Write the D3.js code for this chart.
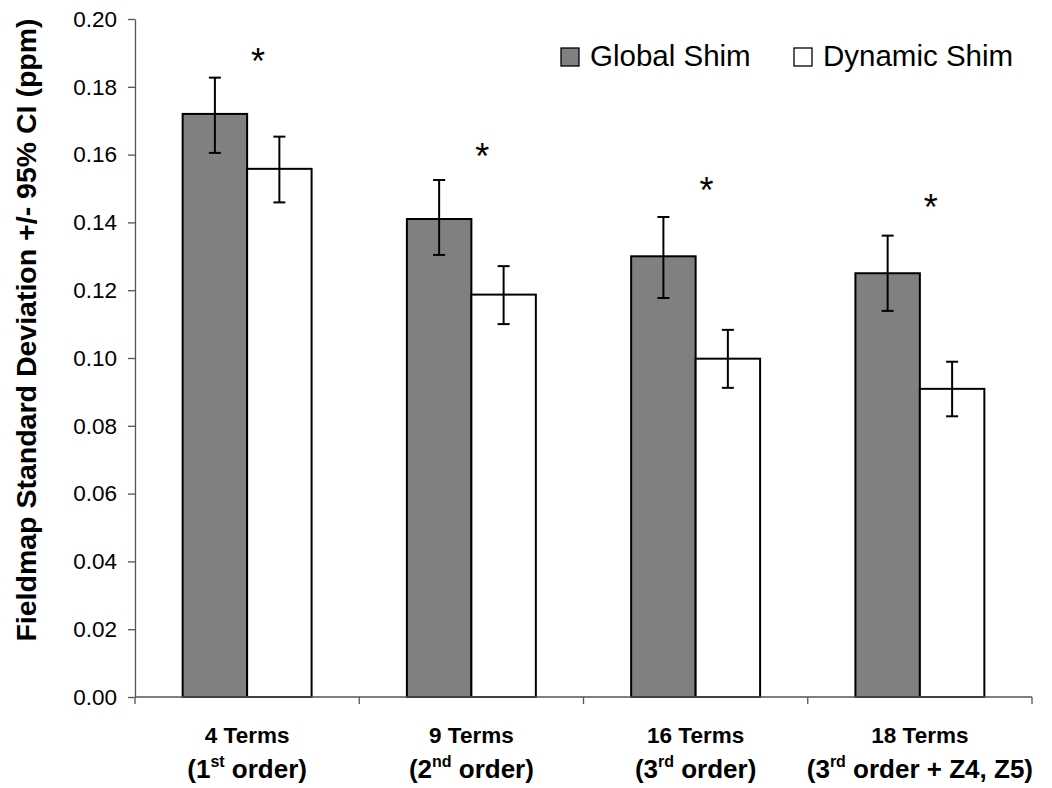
<!DOCTYPE html>
<html>
<head>
<meta charset="utf-8">
<script src="https://cdn.jsdelivr.net/npm/d3@7/dist/d3.min.js"></script>
<style>
  body { margin: 0; background: #fff; }
  text { font-family: Arial, "Liberation Sans", sans-serif; }
</style>
</head>
<body>
<div id="bar-chart"></div>
<script>
// categories and the two-line labels (line 2 has a superscript)
const categories = ['4 Terms', '9 Terms', '16 Terms', '18 Terms'];
const subLabels = [
  ['(1', 'st', ' order)'],
  ['(2', 'nd', ' order)'],
  ['(3', 'rd', ' order)'],
  ['(3', 'rd', ' order + Z4, Z5)']
];
const seriesNames = ['Global Shim', 'Dynamic Shim'];

// values +/- 95% CI (ppm)
const globalShim = [0.172, 0.141, 0.130, 0.125];
const globalLow = [0.1605, 0.1304, 0.1177, 0.1139];
const globalHigh = [0.1827, 0.1525, 0.1416, 0.1361];
const dynamicShim = [0.1558, 0.1187, 0.0998, 0.0909];
const dynamicLow = [0.1459, 0.1100, 0.0912, 0.0828];
const dynamicHigh = [0.1653, 0.1271, 0.1083, 0.0989];

// height of the significance asterisks
const starLevel = [0.1889, 0.1607, 0.1507, 0.1458];

const yTicks = [0, 0.02, 0.04, 0.06, 0.08, 0.10, 0.12, 0.14, 0.16, 0.18, 0.20];

const width = 1052, height = 788;
const margin = { top: 19, right: 20, bottom: 91, left: 135 };
const colors = ['#808080', '#ffffff'];

const rows = categories.map((c, i) => ({
  cat: c,
  bars: [
    { s: 0, v: globalShim[i], lo: globalLow[i], hi: globalHigh[i] },
    { s: 1, v: dynamicShim[i], lo: dynamicLow[i], hi: dynamicHigh[i] }
  ]
}));

const svg = d3.select('#bar-chart')
  .append('svg')
  .attr('width', width)
  .attr('height', height);

//scales
const x = d3.scaleBand()
  .domain(categories)
  .range([margin.left, 1032])
  .paddingInner(0.425)
  .paddingOuter(0.2125);

const xs = d3.scaleBand()
  .domain([0, 1])
  .range([0, x.bandwidth()]);

const y = d3.scaleLinear()
  .domain([0, 0.2])
  .range([height - margin.bottom, margin.top]);

//y-axis
const yAxis = svg.append('g')
  .attr('transform', `translate(${margin.left},0)`)
  .call(d3.axisLeft(y).tickValues(yTicks).tickFormat(d3.format('.2f')).tickSize(7).tickSizeOuter(0).tickPadding(11));
yAxis.select('.domain').attr('stroke', '#555').attr('stroke-width', 1.3);
yAxis.selectAll('.tick line').attr('stroke', '#555').attr('stroke-width', 1.3);
yAxis.selectAll('text').attr('font-size', '22.5px').attr('fill', '#000').attr('font-family', 'Arial, "Liberation Sans", sans-serif');

//y title
svg.append('text')
  .attr('transform', 'translate(36,330) rotate(-90)')
  .attr('text-anchor', 'middle')
  .attr('font-size', '28.5px')
  .attr('font-weight', 'bold')
  .text('Fieldmap Standard Deviation +/- 95% CI (ppm)');

//bars
const groups = svg.append('g')
  .selectAll('g')
  .data(rows)
  .enter()
  .append('g')
  .attr('transform', d => `translate(${x(d.cat)},0)`);

groups.selectAll('rect')
  .data(d => d.bars)
  .enter()
  .append('rect')
  .attr('x', d => xs(d.s))
  .attr('y', d => y(d.v))
  .attr('width', xs.bandwidth())
  .attr('height', d => y(0) - y(d.v))
  .attr('fill', d => colors[d.s])
  .attr('stroke', '#000')
  .attr('stroke-width', 2);

//error bars
const err = groups.selectAll('g.err')
  .data(d => d.bars)
  .enter()
  .append('g')
  .attr('class', 'err')
  .attr('stroke', '#000')
  .attr('stroke-width', 2);

err.append('line')
  .attr('x1', d => xs(d.s) + xs.bandwidth() / 2)
  .attr('x2', d => xs(d.s) + xs.bandwidth() / 2)
  .attr('y1', d => y(d.lo))
  .attr('y2', d => y(d.hi));
err.append('line')
  .attr('x1', d => xs(d.s) + xs.bandwidth() / 2 - 6)
  .attr('x2', d => xs(d.s) + xs.bandwidth() / 2 + 6)
  .attr('y1', d => y(d.hi))
  .attr('y2', d => y(d.hi));
err.append('line')
  .attr('x1', d => xs(d.s) + xs.bandwidth() / 2 - 6)
  .attr('x2', d => xs(d.s) + xs.bandwidth() / 2 + 6)
  .attr('y1', d => y(d.lo))
  .attr('y2', d => y(d.lo));

//asterisks
svg.append('g')
  .selectAll('text')
  .data(categories)
  .enter()
  .append('text')
  .attr('x', d => x(d) + x.bandwidth() / 2 + 11)
  .attr('y', (d, i) => y(starLevel[i]) + 17)
  .attr('text-anchor', 'middle')
  .attr('font-family', '"Liberation Serif", "Times New Roman", serif')
  .attr('font-size', '36px')
  .text('*');

//x-axis
const xAxisY = y(0);
const xAxis = svg.append('g').attr('stroke', '#555').attr('stroke-width', 1.3);
xAxis.append('line')
  .attr('x1', margin.left).attr('x2', 1032)
  .attr('y1', xAxisY).attr('y2', xAxisY);
const step = x.step();
const bounds = d3.range(categories.length + 1).map(i => x(categories[0]) - x.paddingOuter() * step + i * step);
xAxis.selectAll('line.tk')
  .data(bounds)
  .enter()
  .append('line')
  .attr('class', 'tk')
  .attr('x1', d => d).attr('x2', d => d)
  .attr('y1', xAxisY).attr('y2', xAxisY + 7);

//x labels
const lab = svg.append('g')
  .selectAll('g')
  .data(categories)
  .enter()
  .append('g')
  .attr('transform', d => `translate(${x(d) + x.bandwidth() / 2},0)`)
  .attr('font-weight', 'bold');

lab.append('text')
  .attr('y', 743)
  .attr('text-anchor', 'middle')
  .attr('font-size', '22.5px')
  .text(d => d);

const l2 = lab.append('text')
  .attr('y', 778)
  .attr('text-anchor', 'middle')
  .attr('font-size', '26px');
l2.append('tspan').text((d, i) => subLabels[i][0]);
l2.append('tspan').attr('dy', -11).attr('font-size', '16px').text((d, i) => subLabels[i][1]);
l2.append('tspan').attr('dy', 11).text((d, i) => subLabels[i][2]);

//legend
const legend = svg.append('g')
  .selectAll('g')
  .data(seriesNames)
  .enter()
  .append('g')
  .attr('transform', (d, i) => `translate(${[561, 794][i]},48)`);
legend.append('rect')
  .attr('width', 18).attr('height', 18)
  .attr('fill', (d, i) => colors[i])
  .attr('stroke', '#000')
  .attr('stroke-width', 1.3);
legend.append('text')
  .attr('x', 29)
  .attr('y', 18)
  .attr('font-size', '29.5px')
  .text(d => d);
</script>
</body>
</html>
